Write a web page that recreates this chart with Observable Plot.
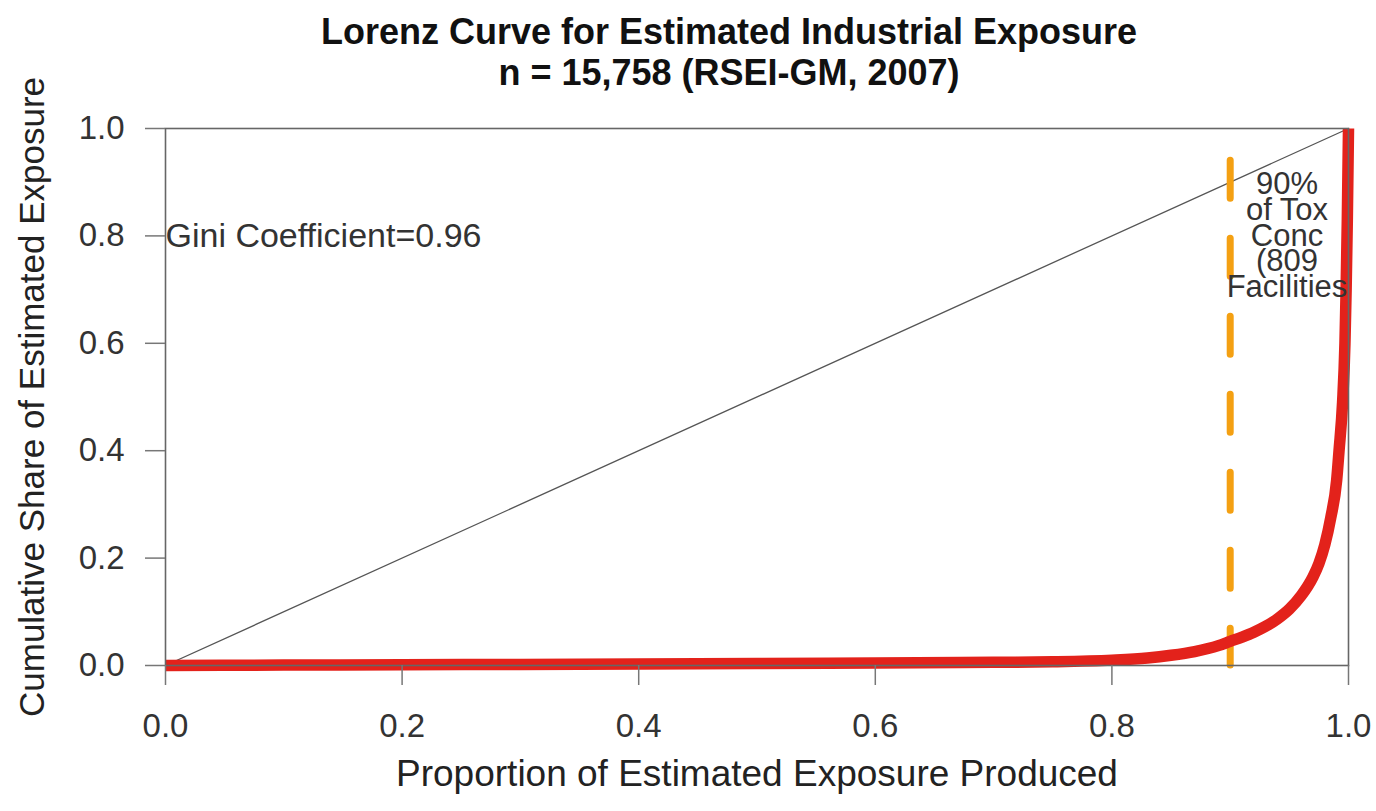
<!DOCTYPE html>
<html>
<head>
<meta charset="utf-8">
<script src="https://cdn.jsdelivr.net/npm/d3@7"></script>
<script src="https://cdn.jsdelivr.net/npm/@observablehq/plot@0.6"></script>
<style>
  html, body { margin: 0; padding: 0; background: #fff; }
  #title { width: 1376px; height: 100px; box-sizing: border-box; padding-top: 11px;
    font-family: "Liberation Sans", Arial, sans-serif; font-weight: bold; font-size: 36px;
    line-height: 41px; text-align: center; color: #111; padding-left: 82px; }
  #chart svg { overflow: visible; }
</style>
</head>
<body>
<div id="title">Lorenz Curve for Estimated Industrial Exposure<br>n = 15,758 (RSEI-GM, 2007)</div>
<div id="chart"></div>
<script>
// Lorenz curve points
const lorenzX = [0, 0.1, 0.2, 0.3, 0.4, 0.5, 0.6, 0.7, 0.75, 0.8, 0.83, 0.85, 0.87, 0.89, 0.9, 0.91, 0.92, 0.93, 0.94, 0.95, 0.96, 0.97, 0.975, 0.98, 0.985, 0.99, 0.992, 0.995, 0.997, 0.998, 0.999, 1];
const lorenzY = [0, 0.0008, 0.0015, 0.002, 0.003, 0.0035, 0.0045, 0.006, 0.007, 0.01, 0.014, 0.019, 0.026, 0.037, 0.045, 0.053, 0.062, 0.073, 0.087, 0.105, 0.13, 0.165, 0.19, 0.225, 0.275, 0.345, 0.4, 0.49, 0.6, 0.7, 0.83, 1];
// line of equality
const equalityX = [0, 1];
const equalityY = [0, 1];
// 90% threshold marker
const thresholdX = [0.9];
const thresholdTop = [0.94];
// tick labels
const xTicks = [0, 0.2, 0.4, 0.6, 0.8, 1.0];
const yTicks = [0, 0.2, 0.4, 0.6, 0.8, 1.0];
// texts
const xTitle = "Proportion of Estimated Exposure Produced";
const yTitle = "Cumulative Share of Estimated Exposure";
const giniLabel = ["Gini Coefficient=0.96"];
const giniPos = [{x: 0, y: 0.8}];
const noteLabel = ["90%\nof Tox\nConc\n(809\nFacilities"];
const notePos = [{x: 0.948, y: 0.797}];

const lorenz = lorenzX.map((x, i) => ({x, y: lorenzY[i]}));
const equality = equalityX.map((x, i) => ({x, y: equalityY[i]}));
const threshold = thresholdX.map((x, i) => ({x, top: thresholdTop[i]}));

const fmt = d3.format(".1f");
const plot = Plot.plot({
  width: 1376,
  height: 711,
  marginLeft: 165,
  marginRight: 28,
  marginTop: 28,
  marginBottom: 146,
  style: {fontFamily: "'Liberation Sans', Arial, sans-serif", fontSize: "33px", color: "#333", background: "#fff", overflow: "visible"},
  x: {domain: [0, 1]},
  y: {domain: [0, 1]},
  marks: [
    Plot.line(equality, {x: "x", y: "y", stroke: "#555", strokeWidth: 1.3}),
    Plot.ruleX(threshold, {x: "x", y1: "top", y2: 0, stroke: "#f4a012", strokeWidth: 7, strokeDasharray: "38,40", strokeLinecap: "round"}),
    Plot.line(lorenz, {x: "x", y: "y", stroke: "#e3221b", strokeWidth: 11.5, curve: "monotone-x", strokeLinecap: "butt"}),
    Plot.frame({stroke: "#666", strokeWidth: 1.6}),
    Plot.axisX({ticks: xTicks, tickFormat: fmt, tickSize: 20, tickPadding: 28, stroke: "#777", strokeWidth: 1.5, label: null}),
    Plot.axisY({ticks: yTicks, tickFormat: fmt, tickSize: 20, tickPadding: 21, stroke: "#777", strokeWidth: 1.5, label: null}),
    Plot.text(giniPos, {x: "x", y: "y", text: () => giniLabel[0], textAnchor: "start", fontSize: 34, fill: "#333"}),
    Plot.text(notePos, {x: "x", y: "y", text: () => noteLabel[0], textAnchor: "middle", fontSize: 31, lineHeight: 0.83, fill: "#333"}),
    Plot.text([xTitle], {frameAnchor: "bottom", text: d => d, dy: 120, fontSize: 37, fill: "#222"}),
    Plot.text([yTitle], {frameAnchor: "left", text: d => d, rotate: -90, textAnchor: "middle", dx: -133, fontSize: 35, fill: "#222"})
  ]
});
document.getElementById("chart").appendChild(plot);
</script>
</body>
</html>
